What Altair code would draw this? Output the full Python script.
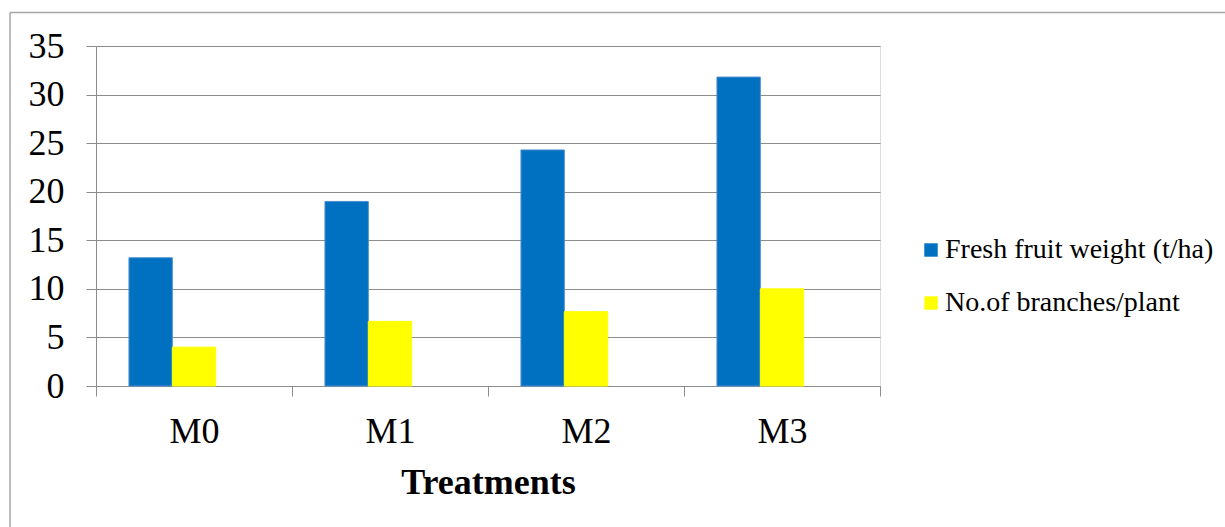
import altair as alt
import pandas as pd

# Treatment groups and the two measured series
treatments = ["M0", "M1", "M2", "M3"]
fresh_weight = [13.2, 19.0, 24.3, 31.8]
branches = [4.0, 6.65, 7.65, 10.0]

series_names = ["Fresh fruit weight (t/ha)", "No.of branches/plant"]
series_colors = ["#0070C0", "#FFFF00"]
series_edges = ["#4a90d0", "#FFFF00"]
# third slot left empty so each pair sits where a three-bar group would
offset_slots = series_names + ["(empty)"]

rows = []
for t, fw, br in zip(treatments, fresh_weight, branches):
    rows.append({"Treatment": t, "Series": series_names[0], "Value": fw})
    rows.append({"Treatment": t, "Series": series_names[1], "Value": br})
df = pd.DataFrame(rows)

FONT = "Liberation Serif"
GRID = "#8c8c8c"

bars = alt.Chart(df).mark_bar(strokeWidth=1).encode(
    x=alt.X(
        "Treatment:N",
        sort=treatments,
        scale=alt.Scale(paddingInner=0, paddingOuter=0),
        axis=alt.Axis(
            title="Treatments",
            labelAngle=0,
            labelFont=FONT,
            labelFontSize=36,
            labelColor="black",
            labelPadding=18,
            titleFont=FONT,
            titleFontSize=36,
            titleFontWeight="bold",
            titleColor="black",
            titlePadding=16,
            tickBand="extent",
            tickSize=10,
            tickColor=GRID,
            domainColor=GRID,
            grid=False,
        ),
    ),
    xOffset=alt.XOffset(
        "Series:N",
        scale=alt.Scale(domain=offset_slots, paddingInner=0, paddingOuter=0.76),
    ),
    y=alt.Y(
        "Value:Q",
        scale=alt.Scale(domain=[0, 35], nice=False),
        axis=alt.Axis(
            title=None,
            values=list(range(0, 36, 5)),
            labelFont=FONT,
            labelFontSize=36,
            labelColor="black",
            labelPadding=22,
            tickSize=10,
            tickColor=GRID,
            domainColor=GRID,
            gridColor=GRID,
            gridWidth=1,
        ),
    ),
    color=alt.Color(
        "Series:N",
        scale=alt.Scale(domain=series_names, range=series_colors),
        legend=alt.Legend(
            title=None,
            orient="none",
            legendX=821,
            legendY=190,
            symbolType="square",
            symbolSize=180,
            symbolStrokeWidth=0,
            labelFont=FONT,
            labelFontSize=28,
            labelColor="black",
            labelOffset=0,
            rowPadding=25,
            labelLimit=400,
        ),
    ),
    stroke=alt.Stroke(
        "Series:N",
        scale=alt.Scale(domain=series_names, range=series_edges),
        legend=None,
    ),
)

# outer chart frame (left and top edges)
frame_data = alt.Data(values=[{"k": 1}])
frame_left = alt.Chart(frame_data).mark_rule(color="#a6a6a6", strokeWidth=1.5).encode(
    x=alt.value(-86), y=alt.value(-33.5), y2=alt.value(490)
)
frame_top = alt.Chart(frame_data).mark_rule(color="#a6a6a6", strokeWidth=1.5).encode(
    x=alt.value(-86), x2=alt.value(1135), y=alt.value(-33.5)
)

chart = (
    alt.layer(bars, frame_left, frame_top)
    .properties(
        width=784,
        height=340,
        autosize=alt.AutoSizeParams(type="none"),
        padding={"left": 96, "top": 46, "right": 345, "bottom": 141},
        background="white",
    )
    .configure_view(stroke=None)
    .configure_legend(labelFont=FONT)
    .configure(font=FONT)
)

chart.save("out.html", embed_options={"renderer": "svg", "actions": False})
